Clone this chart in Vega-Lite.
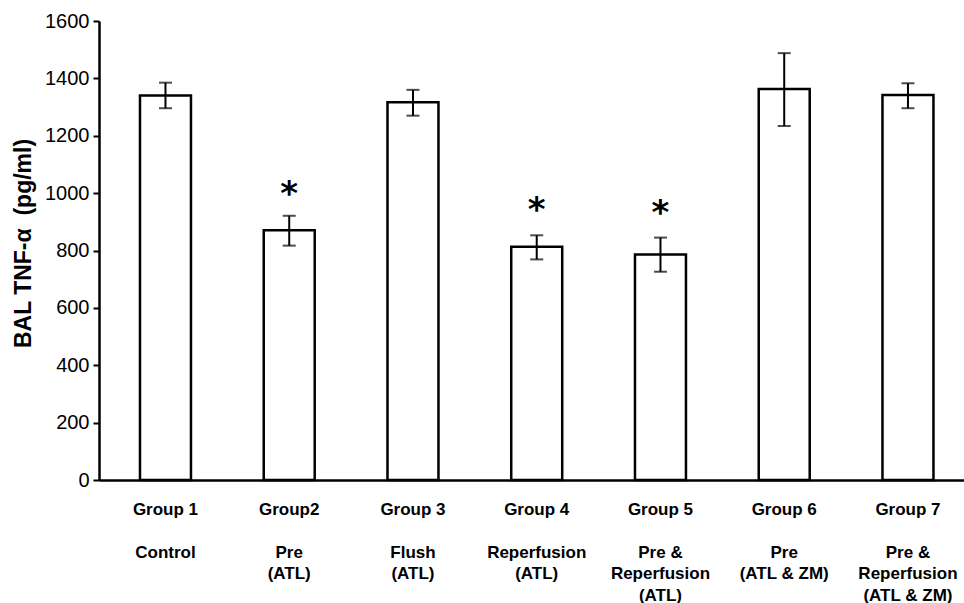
{
  "$schema": "https://vega.github.io/schema/vega-lite/v6.json",
  "width": 865,
  "height": 459,
  "autosize": "none",
  "padding": {"left": 99, "top": 21, "right": 0, "bottom": 123},
  "background": "white",
  "config": {
    "view": {"stroke": null},
    "font": "Liberation Sans",
    "axisY": {
      "grid": false,
      "domainColor": "black",
      "domainWidth": 2.5,
      "tickColor": "black",
      "tickWidth": 2,
      "tickSize": 6,
      "labelPadding": 4,
      "labelFontSize": 20,
      "labelColor": "black",
      "titleFontSize": 23,
      "titleFontWeight": "bold",
      "titleColor": "black"
    }
  },
  "data": {
    "values": [
      {"label": "Group 1|\u200b|Control", "value": 1340, "lo": 1296, "hi": 1385, "star": null},
      {"label": "Group2|\u200b|Pre|(ATL)", "value": 871, "lo": 817, "hi": 921, "star": 1035},
      {"label": "Group 3|\u200b|Flush|(ATL)", "value": 1317, "lo": 1270, "hi": 1360, "star": null},
      {"label": "Group 4|\u200b|Reperfusion|(ATL)", "value": 813, "lo": 769, "hi": 853, "star": 978},
      {"label": "Group 5|\u200b|Pre &|Reperfusion|(ATL)", "value": 786, "lo": 726, "hi": 845, "star": 970},
      {"label": "Group 6|\u200b|Pre|(ATL & ZM)", "value": 1363, "lo": 1234, "hi": 1488, "star": null},
      {"label": "Group 7|\u200b|Pre &|Reperfusion|(ATL & ZM)", "value": 1342, "lo": 1296, "hi": 1383, "star": null}
    ]
  },
  "encoding": {
    "x": {
      "field": "label",
      "type": "nominal",
      "sort": null,
      "scale": {"paddingInner": 0.588, "paddingOuter": 0.289, "align": 0.573},
      "axis": {
        "title": null,
        "labelAngle": 0,
        "labelExpr": "split(datum.label, '|')",
        "labelFontSize": 17,
        "labelFontWeight": "bold",
        "labelColor": "black",
        "labelLineHeight": 21.5,
        "labelPadding": 21,
        "labelBaseline": "top",
        "ticks": false,
        "domainColor": "black",
        "domainWidth": 2.5,
        "grid": false
      }
    }
  },
  "layer": [
    {
      "mark": {"type": "bar", "fill": "white", "stroke": "black", "strokeWidth": 2.5},
      "encoding": {
        "y": {
          "field": "value",
          "type": "quantitative",
          "scale": {"domain": [0, 1600], "nice": false},
          "axis": {
            "title": "BAL TNF-α \u00a0(pg/ml)",
            "values": [0, 200, 400, 600, 800, 1000, 1200, 1400, 1600],
            "format": "d",
            "labelFontSize": 20,
            "titleAngle": -90,
            "titleX": -76,
            "titleY": 222,
            "titleAlign": "center",
            "titleBaseline": "middle"
          }
        }
      }
    },
    {
      "mark": {"type": "rule", "strokeWidth": 2, "color": "black"},
      "encoding": {
        "y": {"field": "lo", "type": "quantitative"},
        "y2": {"field": "hi"}
      }
    },
    {
      "mark": {"type": "tick", "size": 13, "thickness": 2, "color": "black"},
      "encoding": {"y": {"field": "lo", "type": "quantitative"}}
    },
    {
      "mark": {"type": "tick", "size": 13, "thickness": 2, "color": "black"},
      "encoding": {"y": {"field": "hi", "type": "quantitative"}}
    },
    {
      "transform": [{"filter": "datum.star != null"}],
      "mark": {"type": "text", "text": "*", "font": "DejaVu Sans", "fontWeight": "bold", "fontSize": 34, "baseline": "alphabetic", "dy": 22, "color": "black"},
      "encoding": {"y": {"field": "star", "type": "quantitative"}}
    }
  ]
}
